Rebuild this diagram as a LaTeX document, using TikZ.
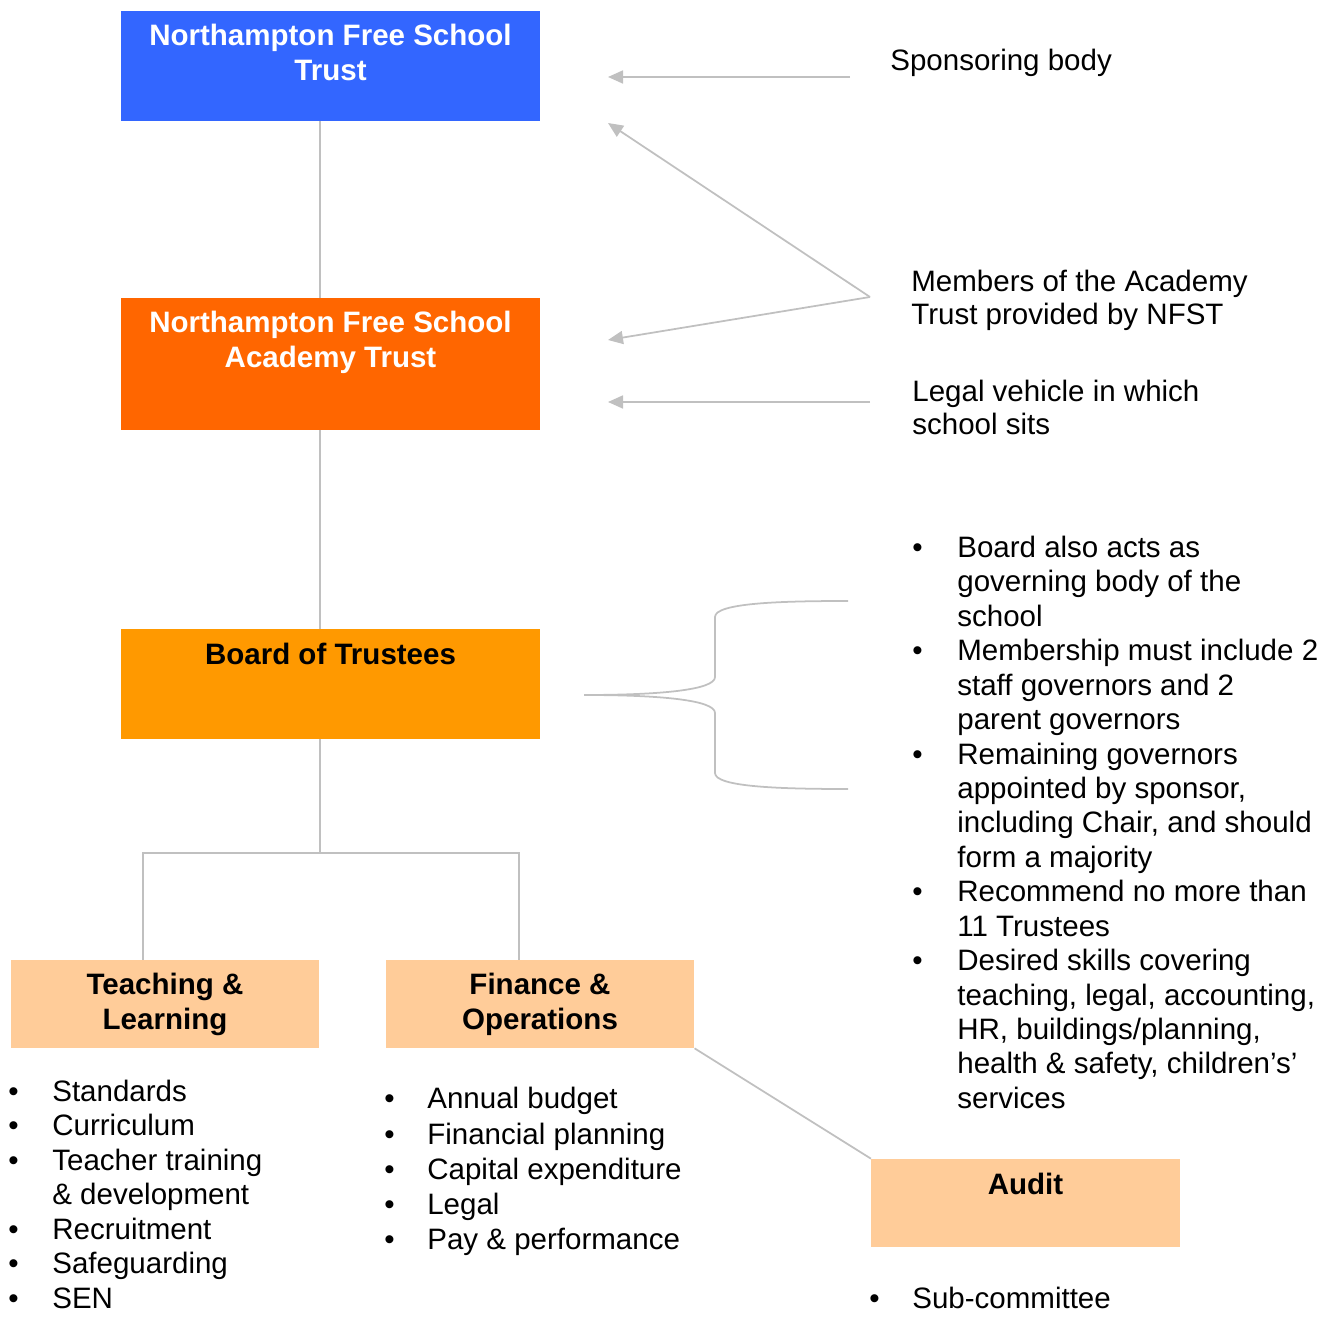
\documentclass[tikz,border=0pt]{standalone}
\usepackage{fontspec}
\setmainfont{Liberation Sans}
\usetikzlibrary{arrows.meta,positioning}
\definecolor{trustblue}{HTML}{3366FF}
\definecolor{academyred}{HTML}{FF6600}
\definecolor{boardorange}{HTML}{FF9900}
\definecolor{cttpeach}{HTML}{FFCC99}
\definecolor{linkgray}{HTML}{C0C0C0}
\newcommand{\bl}{\textbullet}
\begin{document}
\begin{tikzpicture}[x=0.02cm, y=-0.02cm, font=\fontsize{16.8}{20}\selectfont,
  box/.style={rectangle, inner sep=0pt, minimum width=8.38cm, minimum height=2.2cm},
  ctt/.style={rectangle, inner sep=0pt, fill=cttpeach, minimum width=6.17cm, minimum height=1.76cm},
  title/.style={inner sep=0pt, align=center, font=\fontsize{16.8}{20}\selectfont\bfseries},
  list/.style={inner sep=0pt, anchor=north west},
  note/.style={inner sep=0pt, anchor=north west, font=\fontsize{16.8}{19}\selectfont},
  link/.style={draw=linkgray, line width=1pt},
  pointer/.style={link, -{Triangle[length=0.3cm, width=0.26cm]}, shorten >=0pt}]
\useasboundingbox (0,0) rectangle (1330,1317);

% boxes of the structure
\node[box, fill=trustblue] (nfst) at (330.5,66) {};
\node[box, fill=academyred, minimum height=2.64cm] (nfsat) at (330.5,364) {};
\node[box, fill=boardorange] (board) at (330.5,684) {};
\node[ctt] (teach) at (165,1004) {};
\node[ctt] (fin) at (540,1004) {};
\node[ctt] (audit) at (1025.5,1203) {};

\node[title, white, below=0.26cm of nfst.north] (nfstT) {Northampton Free School\\Trust};
\node[title, white, below=0.26cm of nfsat.north] (nfsatT) {Northampton Free School\\Academy Trust};
\node[title, below=0.28cm of board.north] (boardT) {Board of Trustees};
\node[title, below=0.26cm of teach.north] (teachT) {Teaching \&\\Learning};
\node[title, below=0.26cm of fin.north] (finT) {Finance \&\\Operations};
\node[title, below=0.28cm of audit.north] (auditT) {Audit};

% tree
\draw[link] ([xshift=-0.21cm]nfst.south) -- ([xshift=-0.21cm]nfsat.north);
\draw[link] ([xshift=-0.21cm]nfsat.south) -- ([xshift=-0.21cm]board.north);
\draw[link] ([xshift=-0.21cm]board.south) -- ++(0,114) coordinate (fork);
\draw[link] ([xshift=-0.44cm]teach.north) -- ++(0,-107) -| ([xshift=-0.42cm]fin.north);
\draw[link] (fin.south east) -- (audit.north west);

% notes on the right
\node[note] (sponsor) at (890,46.6) {\begin{tabular}{@{}l@{}}Sponsoring body\end{tabular}};
\node[note] (members) at (911,267.6) {\begin{tabular}{@{}l@{}}Members of the Academy\\Trust provided by NFST\end{tabular}};
\node[note] (legal) at (912,377.6) {\begin{tabular}{@{}l@{}}Legal vehicle in which\\school sits\end{tabular}};

\coordinate (sponsorA) at (850,77);
\coordinate (membersA) at (870,297);
\coordinate (legalA) at (870,402);
\coordinate (nfstP) at (608,77);
\coordinate (nfstQ) at (608,123);
\coordinate (nfsatP) at (608,340);
\coordinate (nfsatQ) at (608,402);
\draw[pointer] (sponsorA) -- (nfstP);
\draw[pointer] (membersA) -- (nfstQ);
\draw[pointer] (membersA) -- (nfsatP);
\draw[pointer] (legalA) -- (nfsatQ);

% brace to the board notes
\coordinate (braceT) at (584,695);
\draw[link] (braceT) .. controls (660,695) and (715,690) .. (715,677) -- (715,617)
  .. controls (715,603) and (780,601) .. (848,601);
\draw[link] (braceT) .. controls (660,695) and (715,700) .. (715,713) -- (715,773)
  .. controls (715,787) and (780,789) .. (848,789);

\node[list, font=\fontsize{16.8}{19.6}\selectfont] (boardL) at (912,533) {\begin{tabular}{@{}p{0.9cm}@{}l@{}}
\bl & Board also acts as\\ & governing body of the\\ & school\\
\bl & Membership must include 2\\ & staff governors and 2\\ & parent governors\\
\bl & Remaining governors\\ & appointed by sponsor,\\ & including Chair, and should\\ & form a majority\\
\bl & Recommend no more than\\ & 11 Trustees\\
\bl & Desired skills covering\\ & teaching, legal, accounting,\\ & HR, buildings/planning,\\ & health \& safety, children’s’\\ & services
\end{tabular}};

% committee lists
\node[list, text depth=0pt, font=\fontsize{16.8}{19.6}\selectfont] (teachL) at (8,1077) {\begin{tabular}[b]{@{}p{0.88cm}@{}l@{}}
\bl & Standards\\ \bl & Curriculum\\ \bl & Teacher training\\ & \& development\\
\bl & Recruitment\\ \bl & Safeguarding\\ \bl & SEN
\end{tabular}};
\node[list] (finL) at (384,1084) {\begin{tabular}{@{}p{0.86cm}@{}l@{}}
\bl & Annual budget\\ \bl & Financial planning\\ \bl & Capital expenditure\\
\bl & Legal\\ \bl & Pay \& performance
\end{tabular}};
\node[list] (auditL) at (869,1283.5) {\begin{tabular}{@{}p{0.86cm}@{}l@{}}
\bl & Sub-committee
\end{tabular}};
\end{tikzpicture}
\end{document}
